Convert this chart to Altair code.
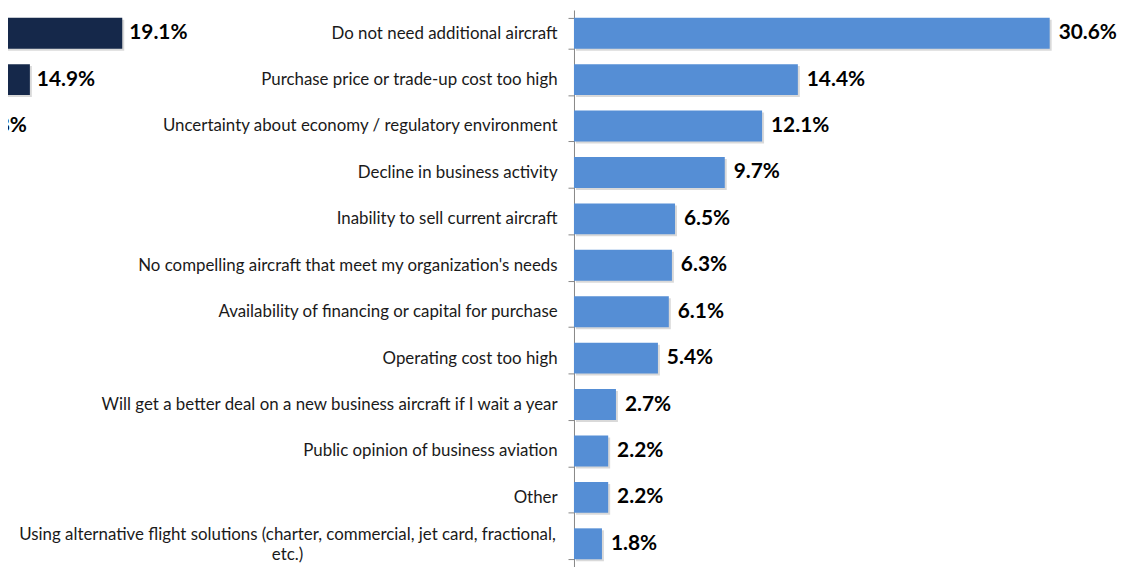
import json
import altair as alt
import pandas as pd

categories = [
    "Do not need additional aircraft",
    "Purchase price or trade-up cost too high",
    "Uncertainty about economy / regulatory environment",
    "Decline in business activity",
    "Inability to sell current aircraft",
    "No compelling aircraft that meet my organization's needs",
    "Availability of financing or capital for purchase",
    "Operating cost too high",
    "Will get a better deal on a new business aircraft if I wait a year",
    "Public opinion of business aviation",
    "Other",
    "Using alternative flight solutions (charter, commercial, jet card, fractional, etc.)",
]
values = [30.6, 14.4, 12.1, 9.7, 6.5, 6.3, 6.1, 5.4, 2.7, 2.2, 2.2, 1.8]

# partially visible (cropped) companion chart on the left
left_categories = categories[:3]
left_values = [19.1, 14.9, 11.8]

df = pd.DataFrame({"reason": categories, "pct": values})
left_df = pd.DataFrame({"reason": left_categories, "pct": left_values})

long_label = categories[-1]
wrapped = ["Using alternative flight solutions (charter, commercial, jet card, fractional,", "etc.)"]
label_expr = "datum.value == {} ? {} : datum.label".format(
    json.dumps(long_label, ensure_ascii=False), json.dumps(wrapped, ensure_ascii=False))
is_long = "datum.value == {}".format(json.dumps(long_label, ensure_ascii=False))

y_enc = alt.Y(
    "reason:N",
    sort=categories,
    scale=alt.Scale(paddingInner=1 / 3, paddingOuter=1 / 6),
    axis=alt.Axis(
        title=None,
        tickBand="extent",
        tickSize=6,
        tickColor="#868686",
        domainColor="#868686",
        labelFontSize=17,
        labelFont="Lato",
        labelColor="#1a1a1a",
        labelLimit=700,
        labelLineHeight=20,
        labelExpr=label_expr,
        labelAlign={"condition": {"test": is_long, "value": "center"}, "value": "right"},
        labelPadding={"condition": {"test": is_long, "value": 283}, "value": 11},
        labelOffset={"condition": {"test": is_long, "value": -9}, "value": 0},
    ),
)

x_right = alt.X("pct:Q", scale=alt.Scale(domain=[0, 35], nice=False, zero=True), axis=None)
x_left = alt.X("pct:Q", scale=alt.Scale(domain=[0, 20], range=[-878, -435], nice=False), axis=None)

base_r = alt.Chart(df)
base_l = alt.Chart(left_df)

shadow_r = base_r.mark_bar(color="#000000", opacity=0.15, xOffset=2, x2Offset=2, yOffset=2, y2Offset=2).encode(
    x=x_right, y=y_enc)
bars_r = base_r.mark_bar(color="#558ED5").encode(x=x_right, y=y_enc)
text_r = base_r.transform_calculate(lbl="format(datum.pct, '.1f') + '%'").mark_text(
    align="left", baseline="middle", dx=9, fontSize=21, fontWeight="bold", font="Lato", color="#000000"
).encode(x=x_right, y=y_enc, text="lbl:N")

shadow_l = base_l.mark_bar(color="#000000", opacity=0.15, xOffset=2, x2Offset=2, yOffset=2, y2Offset=2).encode(
    x=x_left, y=y_enc)
bars_l = base_l.mark_bar(color="#15284A").encode(x=x_left, y=y_enc)
text_l = base_l.transform_calculate(lbl="format(datum.pct, '.1f') + '%'").mark_text(
    align="left", baseline="middle", dx=7, fontSize=21, fontWeight="bold", font="Lato", color="#000000"
).encode(x=x_left, y=y_enc, text="lbl:N")

chart = alt.layer(shadow_l, bars_l, text_l, shadow_r, bars_r, text_r).resolve_scale(
    x="independent"
).properties(
    width=548,
    height=561,
    autosize=alt.AutoSizeParams(type="none"),
    padding={"left": 570, "top": 0, "right": 15, "bottom": 0},
).configure(font="Lato").configure_view(strokeWidth=0, stroke="transparent")

chart.save("out.html", embed_options={"renderer": "svg", "actions": False})
